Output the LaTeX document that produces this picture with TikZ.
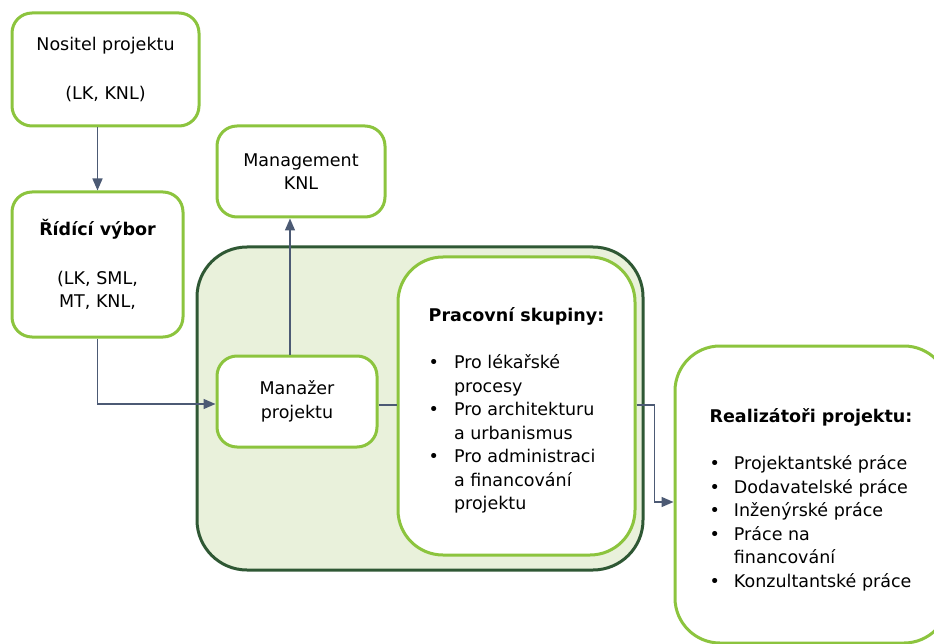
\documentclass[tikz,border=0pt]{standalone}
\usepackage{fontspec}
\setmainfont{DejaVu Sans}
\usetikzlibrary{arrows.meta,calc}
\definecolor{leafgreen}{RGB}{140,196,62}
\definecolor{pinegreen}{RGB}{47,88,52}
\definecolor{palegreen}{RGB}{233,241,219}
\definecolor{slate}{RGB}{76,90,116}
\begin{document}
\begin{tikzpicture}[x=1pt,y=-1pt,
  every node/.style={font=\fontsize{17.5pt}{23.5pt}\selectfont, inner sep=0pt},
  box/.style={draw=leafgreen, line width=3pt, fill=white, rounded corners=20pt, align=center},
  link/.style={draw=slate, line width=1.5pt},
  tip/.style={-{Triangle[length=12pt,width=10pt]}}]
\useasboundingbox (0,0) rectangle (934,644);
\clip (0,0) rectangle (934,644);

% project team container
\node[draw=pinegreen, line width=3pt, fill=palegreen, rounded corners=50pt,
      minimum width=446pt, minimum height=323pt] (team) at (420,408.5) {};

% boxes
\node[box, minimum width=187pt, minimum height=113pt] (nositel) at (105.5,69.5)
  {Nositel projektu\\[25pt](LK, KNL)};
\node[box, minimum width=171pt, minimum height=145pt] (ridici) at (97.5,264.5)
  {\textbf{Řídící výbor}\\[25pt](LK, SML,\\MT, KNL,};
\node[box, minimum width=168pt, minimum height=91pt] (mgmt) at (301,171.5)
  {Management\\KNL};
\node[box, minimum width=160pt, minimum height=91pt] (manazer) at (297,401.5)
  {Manažer\\projektu};
\node[box, rounded corners=45pt, minimum width=237pt, minimum height=298pt] (skupiny) at (516.5,406) {};
\node (skupinytext) at ([yshift=-5pt]skupiny.center)
  {\begin{tabular}{@{}l@{\hspace{15pt}}l@{}}
   \multicolumn{2}{@{}l@{}}{\textbf{Pracovní skupiny:}}\\[23.5pt]
   \textbullet & Pro lékařské\\
               & procesy\\
   \textbullet & Pro architekturu\\
               & a urbanismus\\
   \textbullet & Pro administraci\\
               & a financování\\
               & projektu
   \end{tabular}};
\node[box, rounded corners=45pt, minimum width=274pt, minimum height=297pt] (realizatori) at (812,494.5) {};
\node (realizatoritext) at ([xshift=-1pt,yshift=-6pt]realizatori.center)
  {\begin{tabular}{@{}l@{\hspace{14pt}}l@{}}
   \multicolumn{2}{@{}l@{}}{\textbf{Realizátoři projektu:}}\\[23.5pt]
   \textbullet & Projektantské práce\\
   \textbullet & Dodavatelské práce\\
   \textbullet & Inženýrské práce\\
   \textbullet & Práce na\\
               & financování\\
   \textbullet & Konzultantské práce
   \end{tabular}};

% connectors
\coordinate (up) at ([xshift=-7pt]manazer.north);
\coordinate (mid) at ([yshift=-3.5pt]manazer.east);
\draw[link,tip] ([xshift=-8pt]nositel.south) -- (ridici.north);
\draw[link,tip] (ridici.south) |- ([yshift=-2.5pt]manazer.west);
\draw[link,tip] (up) -- (up |- mgmt.south);
\draw[link] (mid) -- (mid -| skupiny.west);
\draw[link,tip] (mid -| skupiny.east) -- ++(18pt,0) |- ([yshift=-7.5pt]realizatori.west);
\end{tikzpicture}
\end{document}
